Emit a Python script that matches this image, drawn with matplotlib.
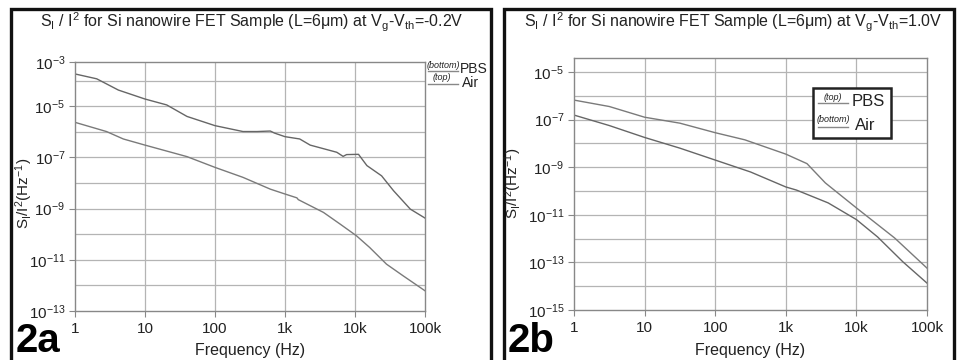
import matplotlib
matplotlib.use("Agg")
import matplotlib.pyplot as plt
from matplotlib.lines import Line2D
from matplotlib.patches import Rectangle
import numpy as np

plt.rcParams['font.family'] = ['Liberation Sans', 'DejaVu Sans']
plt.rcParams['mathtext.fontset'] = 'custom'
plt.rcParams['mathtext.rm'] = 'Liberation Sans'
plt.rcParams['mathtext.it'] = 'Liberation Sans:italic'
plt.rcParams['mathtext.default'] = 'regular'

# ---------------- data (log10 frequency, log10 S_I/I^2) ----------------
a_air_logf = [0.0, 0.31, 0.62, 1.0, 1.31, 1.60, 2.0, 2.40, 2.60, 2.79, 2.85, 3.0, 3.21, 3.36, 3.74,
              3.83, 3.88, 4.05, 4.17, 4.38, 4.55, 4.79, 5.0]
a_air_logs = [-3.74, -3.93, -4.37, -4.72, -4.95, -5.40, -5.76, -5.99, -5.99, -5.97, -6.05, -6.19, -6.28,
              -6.52, -6.80, -6.96, -6.89, -6.88, -7.32, -7.72, -8.30, -9.02, -9.37]
a_pbs_logf = [0.0, 0.45, 0.69, 1.0, 1.60, 2.0, 2.40, 2.79, 3.0, 3.17, 3.19, 3.55, 3.79, 4.02, 4.21,
              4.45, 4.69, 5.0]
a_pbs_logs = [-5.63, -5.99, -6.28, -6.52, -6.97, -7.39, -7.78, -8.24, -8.43, -8.58, -8.65, -9.15,
              -9.61, -10.06, -10.52, -11.17, -11.63, -12.21]

b_pbs_logf = [0.0, 0.5, 1.0, 1.5, 2.0, 2.42, 3.0, 3.3, 3.56, 4.0, 4.54, 5.0]
b_pbs_logs = [-6.18, -6.45, -6.90, -7.15, -7.55, -7.85, -8.45, -8.85, -9.66, -10.71, -11.97, -13.24]
b_air_logf = [0.0, 0.5, 1.0, 1.5, 2.0, 2.5, 3.0, 3.15, 3.6, 4.0, 4.3, 4.66, 5.0]
b_air_logs = [-6.81, -7.25, -7.75, -8.20, -8.70, -9.20, -9.83, -9.96, -10.5, -11.2, -11.93, -12.98, -13.87]

xticks = [1, 10, 100, 1e3, 1e4, 1e5]
xticklabels = ['1', '10', '100', '1k', '10k', '100k']
titles = [r'S$_I$ / I$^2$ for Si nanowire FET Sample (L=6μm) at V$_g$-V$_{th}$=-0.2V',
          r'S$_I$ / I$^2$ for Si nanowire FET Sample (L=6μm) at V$_g$-V$_{th}$=1.0V']
panel_labels = ['2a', '2b']

W, H = 958, 360
fig = plt.figure(figsize=(W / 100, H / 100), dpi=100)

def fx(px):
    return px / W

def fy(py):
    return 1 - py / H

grid_c = '#b4b4b4'
spine_c = '#888888'
line_c = '#7a7a7a'

def setup_axes(ax, ylo, yhi, ymajor, ylabels):
    ax.set_xscale('log')
    ax.set_yscale('log')
    ax.set_xlim(1, 1e5)
    ax.set_ylim(10.0 ** ylo, 10.0 ** yhi)
    ax.set_xticks(xticks)
    ax.set_xticklabels(xticklabels)
    ax.set_yticks(ymajor)
    ax.set_yticklabels(ylabels)
    ax.minorticks_off()
    for e in range(int(np.floor(ylo)), int(np.ceil(yhi)) + 1):
        if ylo < e < yhi:
            ax.axhline(10.0 ** e, color=grid_c, lw=0.9, zorder=0)
    for t in xticks[1:-1]:
        ax.axvline(t, color=grid_c, lw=0.9, zorder=0)
    for s in ax.spines.values():
        s.set_color(spine_c)
        s.set_linewidth(1.0)
    ax.tick_params(axis='both', which='both', direction='out', length=4, color=spine_c,
                   labelsize=11, labelcolor='#222222', width=0.8)
    ax.tick_params(axis='x', pad=4)
    ax.tick_params(axis='y', pad=3)

# panel a
axa = fig.add_axes([fx(75), fy(311), fx(425) - fx(75), fy(62) - fy(311)])
a_top = -13 + (311 - 62) / 25.6
setup_axes(axa, -13, a_top,
           [10.0 ** a_top, 1e-5, 1e-7, 1e-9, 1e-11, 1e-13],
           [r'$10^{-3}$', r'$10^{-5}$', r'$10^{-7}$', r'$10^{-9}$', r'$10^{-11}$', r'$10^{-13}$'])
axa.plot(10.0 ** np.array(a_air_logf), 10.0 ** np.array(a_air_logs), color='#666666', lw=1.0)
axa.plot(10.0 ** np.array(a_pbs_logf), 10.0 ** np.array(a_pbs_logs), color=line_c, lw=1.0)

# panel b
axb = fig.add_axes([fx(574), fy(310), fx(927) - fx(574), fy(58) - fy(310)])
b_top = -15 + (310 - 58) / 23.8
setup_axes(axb, -15, b_top,
           [1e-5, 1e-7, 1e-9, 1e-11, 1e-13, 1e-15],
           [r'$10^{-5}$', r'$10^{-7}$', r'$10^{-9}$', r'$10^{-11}$', r'$10^{-13}$', r'$10^{-15}$'])
axb.plot(10.0 ** np.array(b_pbs_logf), 10.0 ** np.array(b_pbs_logs), color=line_c, lw=1.0)
axb.plot(10.0 ** np.array(b_air_logf), 10.0 ** np.array(b_air_logs), color='#666666', lw=1.0)

# titles, labels
for cx, t in zip([252, 733], titles):
    fig.text(fx(cx), fy(22), t, ha='center', va='center', fontsize=11.5, color='#222222')
for cx, cy in zip([24, 513], [193, 183]):
    fig.text(fx(cx), fy(cy), r'S$_I$/I$^2$(Hz$^{-1}$)', rotation=90,
             ha='center', va='center', fontsize=11, color='#222222')
for cx in [250, 750]:
    fig.text(fx(cx), fy(351), 'Frequency (Hz)', ha='center', va='center', fontsize=11.5, color='#222222')
for lx, lab in zip([16, 508], panel_labels):
    fig.text(fx(lx), fy(359.5), lab, ha='left', va='bottom', fontsize=29, fontweight='bold',
             color='black')

# frames
for x0, x1 in [(10.5, 491), (503.5, 954)]:
    fig.add_artist(Rectangle((fx(x0), fy(372)), fx(x1) - fx(x0), fy(9) - fy(372),
                             transform=fig.transFigure, fill=False, lw=2.4, ec='#111111'))

# legend a (outside, right)
fig.text(fx(443), fy(65), '(bottom)', style='italic', fontsize=6.5, ha='center', va='center', color='#222222')
fig.add_artist(Line2D([fx(428), fx(458)], [fy(71), fy(71)], color='#888888', lw=1.0))
fig.text(fx(460), fy(69), 'PBS', fontsize=10, ha='left', va='center', color='#222222')
fig.text(fx(442), fy(78), '(top)', style='italic', fontsize=6.5, ha='center', va='center', color='#222222')
fig.add_artist(Line2D([fx(428), fx(458)], [fy(84), fy(84)], color='#888888', lw=1.0))
fig.text(fx(462), fy(83), 'Air', fontsize=10, ha='left', va='center', color='#222222')

# legend b (boxed)
fig.add_artist(Rectangle((fx(813), fy(138)), fx(891) - fx(813), fy(88) - fy(138),
                         transform=fig.transFigure, fill=True, fc='white', lw=1.8, ec='#222222', zorder=5))
fig.text(fx(833), fy(97), '(top)', style='italic', fontsize=6.5, ha='center', va='center', color='#222222', zorder=6)
fig.add_artist(Line2D([fx(818), fx(848)], [fy(103), fy(103)], color='#888888', lw=1.0, zorder=6))
fig.text(fx(852), fy(102), 'PBS', fontsize=12, ha='left', va='center', color='#222222', zorder=6)
fig.text(fx(833), fy(120), '(bottom)', style='italic', fontsize=6.5, ha='center', va='center', color='#222222', zorder=6)
fig.add_artist(Line2D([fx(818), fx(848)], [fy(127), fy(127)], color='#888888', lw=1.0, zorder=6))
fig.text(fx(855), fy(126), 'Air', fontsize=12, ha='left', va='center', color='#222222', zorder=6)

fig.savefig('out.png', dpi=100)
